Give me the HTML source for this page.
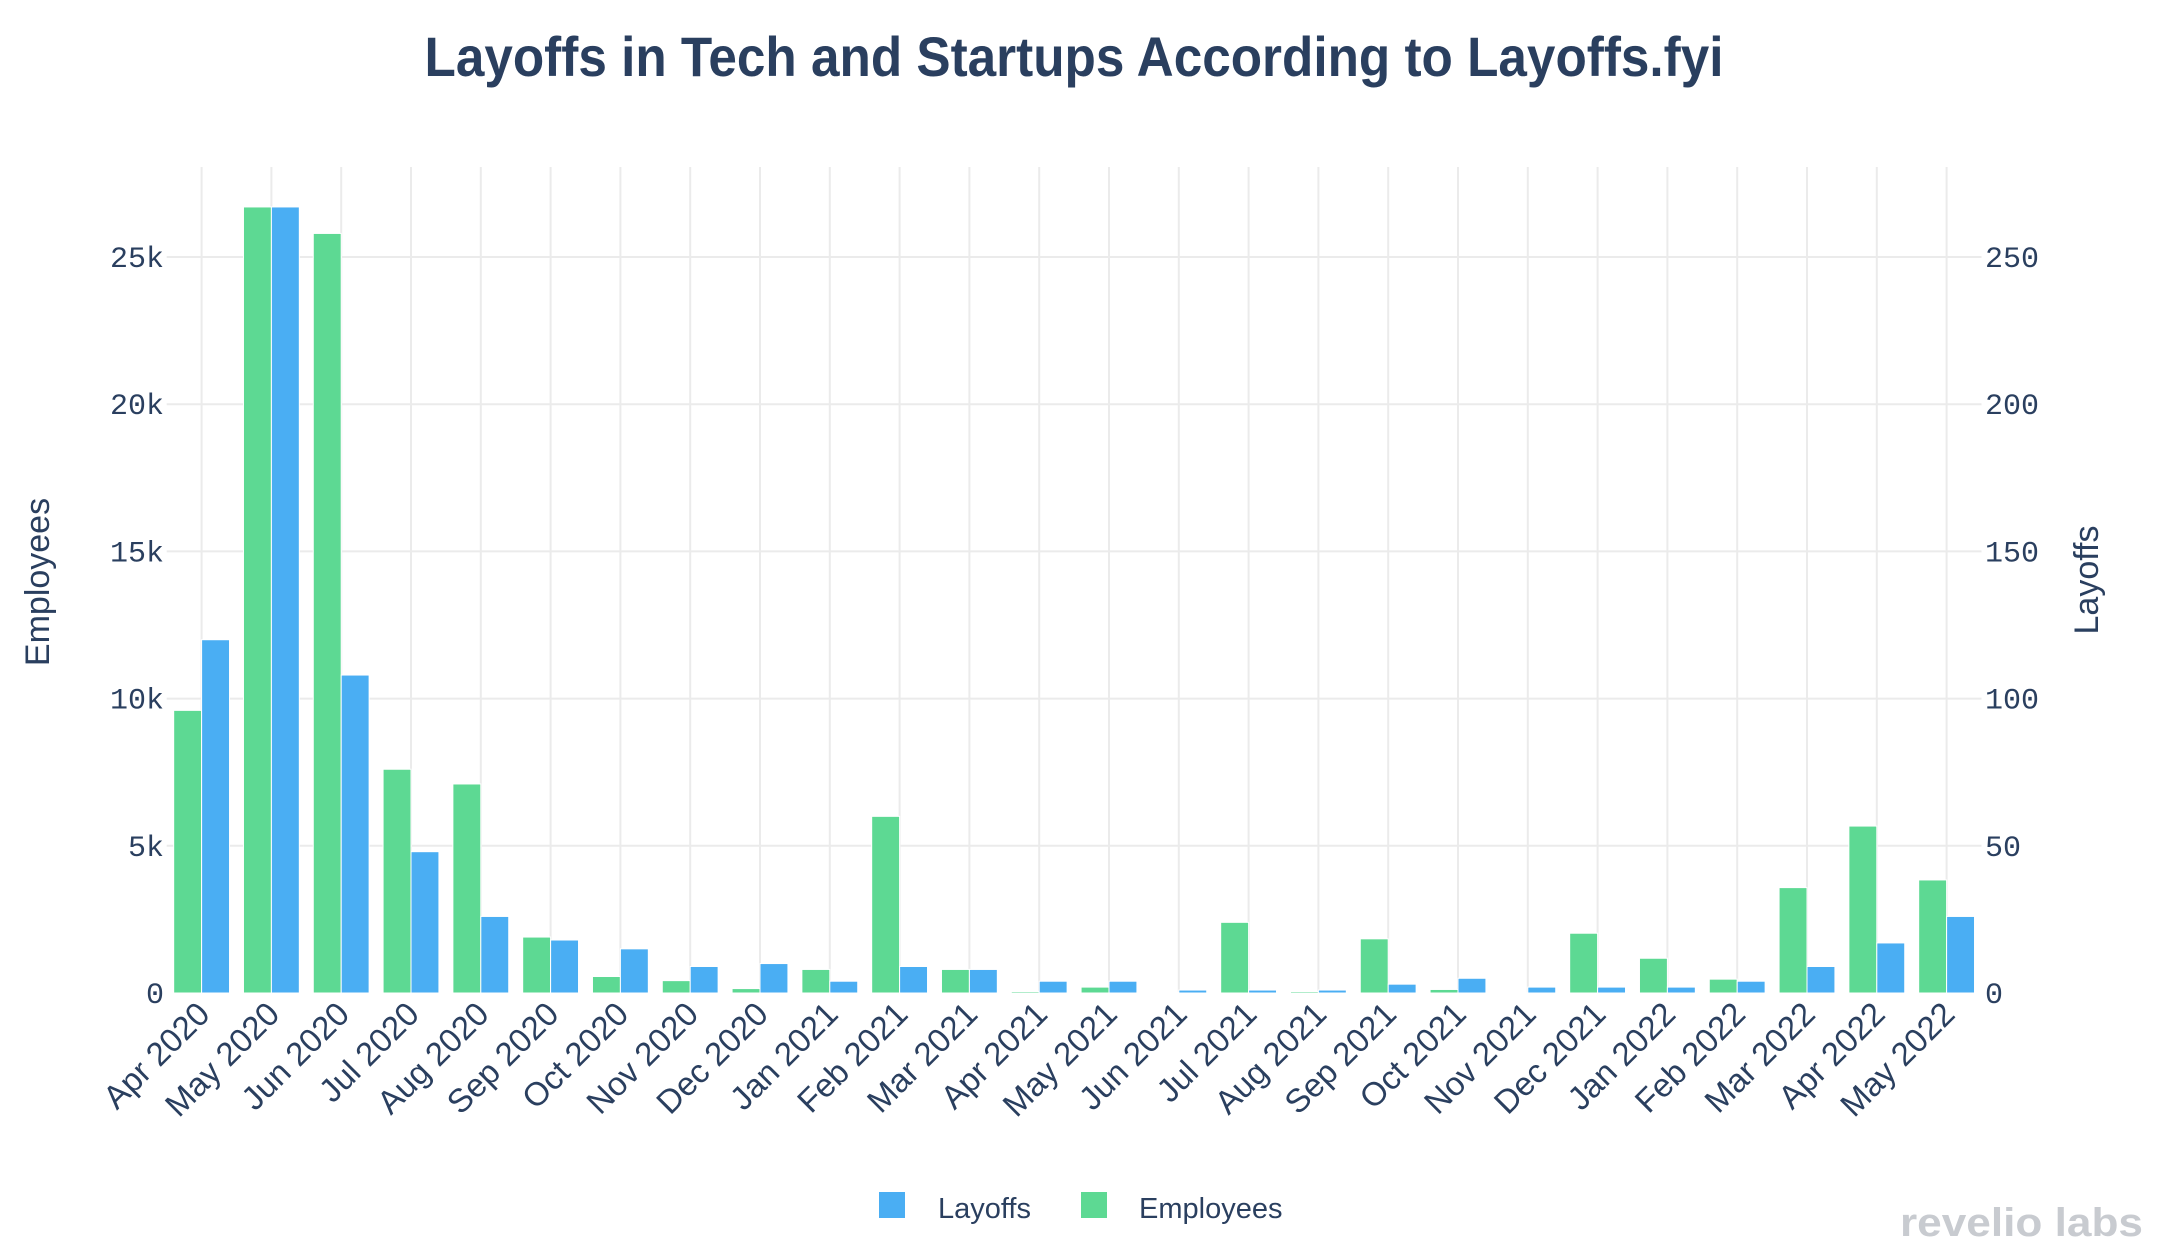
<!DOCTYPE html>
<html><head><meta charset="utf-8"><style>
html,body{margin:0;padding:0;background:#fff;}
svg{display:block;font-family:"Liberation Sans",sans-serif;}
</style></head><body>
<svg id="chart" width="2162" height="1256" viewBox="0 0 2162 1256" xmlns="http://www.w3.org/2000/svg">
<rect width="2162" height="1256" fill="#fff"/>
<text x="1074" y="76" text-anchor="middle" font-size="56" font-weight="bold" fill="#2a3f5f" textLength="1299" lengthAdjust="spacingAndGlyphs">Layoffs in Tech and Startups According to Layoffs.fyi</text>
<g id="grid"></g>
<g id="bars"></g>
<g id="axes"></g>
<text transform="translate(49,582) rotate(-90)" text-anchor="middle" font-size="34" fill="#2a3f5f">Employees</text>
<text transform="translate(2098,580) rotate(-90)" text-anchor="middle" font-size="34" fill="#2a3f5f">Layoffs</text>
<g>
<rect x="879" y="1192" width="26" height="26" fill="#4aaef3"/>
<text x="938" y="1218" font-size="29" fill="#2a3f5f">Layoffs</text>
<rect x="1081" y="1192" width="26" height="26" fill="#5dd993"/>
<text x="1139" y="1218" font-size="29" fill="#2a3f5f">Employees</text>
</g>
<text x="2143" y="1236" text-anchor="end" font-size="40" font-weight="bold" fill="#c8cbd0" textLength="243" lengthAdjust="spacingAndGlyphs">revelio labs</text>
</svg>
<script>
const categories = ["Apr 2020","May 2020","Jun 2020","Jul 2020","Aug 2020","Sep 2020","Oct 2020","Nov 2020","Dec 2020","Jan 2021","Feb 2021","Mar 2021","Apr 2021","May 2021","Jun 2021","Jul 2021","Aug 2021","Sep 2021","Oct 2021","Nov 2021","Dec 2021","Jan 2022","Feb 2022","Mar 2022","Apr 2022","May 2022"];
const employees = [9600,26700,25800,7600,7100,1900,560,420,150,800,6000,800,50,200,20,2400,50,1840,120,10,2030,1180,470,3580,5670,3840];
const layoffs = [120,267,108,48,26,18,15,9,10,4,9,8,4,4,1,1,1,3,5,2,2,2,4,9,17,26];
const leftTicks = [0,5000,10000,15000,20000,25000];
const leftTickLabels = ["0","5k","10k","15k","20k","25k"];
const rightTicks = [0,50,100,150,200,250];
const rightTickLabels = ["0","50","100","150","200","250"];

const NS = "http://www.w3.org/2000/svg";
const plotL = 166.7, plotR = 1981.5, plotT = 167, plotB = 993;
const yZero = 993, pxPer5k = 147.2;
const yLeft = v => yZero - v / 5000 * pxPer5k;
const yRight = v => yZero - v / 50 * pxPer5k;
const step = (plotR - plotL) / categories.length;
const xC = i => plotL + step * (i + 0.5);
const barW = step * 0.8 / 2;

function mk(tag, attrs, parent) {
  const el = document.createElementNS(NS, tag);
  for (const k in attrs) el.setAttribute(k, attrs[k]);
  parent.appendChild(el);
  return el;
}
const grid = document.getElementById('grid');
const bars = document.getElementById('bars');
const axes = document.getElementById('axes');

leftTicks.forEach((t, i) => {
  if (t === 0) return;
  const y = yLeft(t);
  const l = mk('line', {x1: plotL, x2: plotR, y1: y, y2: y, stroke: '#ebebeb', 'stroke-width': 2}, grid);
  
  
});
categories.forEach((c, i) => {
  const l = mk('line', {x1: xC(i), x2: xC(i), y1: plotT, y2: plotB, stroke: '#ebebeb', 'stroke-width': 2}, grid);
  
  
});

categories.forEach((c, i) => {
  const ye = yLeft(employees[i]);
  const g = mk('rect', {x: xC(i) - barW, y: ye, width: barW, height: yZero - ye, fill: '#5dd993', stroke: '#fff', 'stroke-width': 1}, bars);
  
  
  const yl = yRight(layoffs[i]);
  const b = mk('rect', {x: xC(i), y: yl, width: barW, height: yZero - yl, fill: '#4aaef3', stroke: '#fff', 'stroke-width': 1}, bars);
  
  
  const t = mk('text', {transform: `translate(${xC(i) + 10},${1016}) rotate(-45)`, 'text-anchor': 'end', 'font-size': 33, fill: '#2a3f5f'}, axes);
  t.textContent = c;
  
  
});

leftTicks.forEach((t, i) => {
  const el = mk('text', {x: 164, y: yLeft(t) + 10, 'text-anchor': 'end', 'font-size': 30, 'font-family': '"Liberation Mono", monospace', fill: '#2a3f5f'}, axes);
  el.textContent = leftTickLabels[i];
  
  
});
rightTicks.forEach((t, i) => {
  const el = mk('text', {x: 1985, y: yRight(t) + 10, 'text-anchor': 'start', 'font-size': 30, 'font-family': '"Liberation Mono", monospace', fill: '#2a3f5f'}, axes);
  el.textContent = rightTickLabels[i];
  
  
});
</script>
</body></html>
